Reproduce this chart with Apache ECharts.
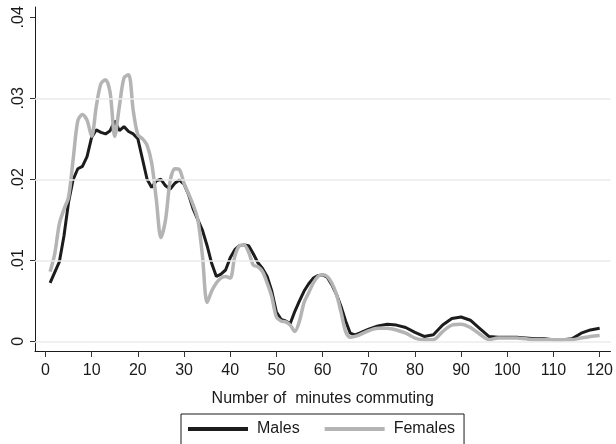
<!DOCTYPE html>
<html>
<head>
<meta charset="utf-8">
<script src="https://cdn.jsdelivr.net/npm/echarts@6/dist/echarts.min.js"></script>
<style>html,body{margin:0;padding:0;background:#fff}#c{width:616px;height:444px}</style>
</head>
<body>
<div id="c"></div>
<script>
const minutes = [1,2,3,4,5,6,7,8,9,10,11,12,13,14,15,16,17,18,19,20,21,22,23,24,25,26,27,28,29,30,31,32,33,34,35,36,37,38,39,40,41,42,43,44,45,46,47,48,49,50,51,52,53,54,55,56,57,58,59,60,61,62,63,64,65,66,67,68,70,72,74,76,78,80,82,84,86,88,90,92,94,96,98,100,102,104,106,108,110,112,114,116,118,120];
const males = [.0072,.0085,.0098,.0130,.0172,.0200,.0213,.0216,.0228,.0252,.0261,.0258,.0256,.0260,.0272,.0260,.0265,.0259,.0256,.0250,.0225,.0200,.0190,.0198,.0200,.0192,.0188,.0195,.0199,.0194,.0181,.0163,.0150,.0137,.0118,.0096,.0080,.0083,.0088,.0103,.0113,.0118,.0119,.0118,.0108,.0097,.0090,.0080,.0062,.0036,.0027,.0025,.0022,.0037,.0050,.0062,.0071,.0078,.0081,.0082,.0079,.0070,.0058,.0043,.0025,.0010,.0008,.0010,.0015,.0019,.0021,.0020,.0017,.0011,.0006,.0008,.0020,.0028,.0030,.0026,.0016,.0006,.0005,.0005,.0005,.0004,.0003,.0003,.0002,.0002,.0003,.0010,.0014,.0016];
const females = [.0086,.0108,.0145,.0163,.0178,.0225,.0272,.0280,.0273,.0253,.0290,.0318,.0323,.0307,.0253,.0290,.0325,.0329,.0285,.0255,.0250,.0242,.0220,.0175,.0128,.0150,.0198,.0213,.0212,.0195,.0182,.0168,.0150,.0105,.0048,.0062,.0072,.0078,.0080,.0078,.0105,.0118,.0119,.0110,.0094,.0092,.0086,.0072,.0055,.0030,.0025,.0024,.0020,.0012,.0025,.0048,.0060,.0072,.0080,.0082,.0080,.0072,.0058,.0036,.0012,.0005,.0006,.0008,.0013,.0016,.0016,.0014,.0010,.0004,.0002,.0002,.0012,.0020,.0021,.0017,.0009,.0002,.0004,.0004,.0004,.0003,.0002,.0002,.0002,.0002,.0002,.0004,.0006,.0007];
const xTicks = [0,10,20,30,40,50,60,70,80,90,100,110,120];
const yTicks = [0,0.01,0.02,0.03,0.04];
const yTickLabels = ['0','.01','.02','.03','.04'];
const gridVals = [0,0.01,0.02,0.03];
const seriesNames = ['Males','Females'];
const xTitle = 'Number of  minutes commuting';

const chart = echarts.init(document.getElementById('c'), null, {renderer:'canvas'});
const font = 'Liberation Sans, Arial, sans-serif';
chart.setOption({
  animation:false,
  backgroundColor:'#ffffff',
  grid:{left:35,right:4,top:7,bottom:93,containLabel:false},
  xAxis:{
    type:'value', min:-2.27, max:122.35,
    name:xTitle, nameLocation:'middle', nameGap:40,
    nameTextStyle:{fontFamily:font,fontSize:16,color:'#1a1a1a'},
    axisLine:{show:true,onZero:false,lineStyle:{color:'#1a1a1a',width:1}},
    axisTick:{show:true,length:6,customValues:xTicks,lineStyle:{color:'#333',width:1}},
    axisLabel:{customValues:xTicks,margin:12,fontFamily:font,fontSize:16,color:'#1a1a1a'},
    splitLine:{show:false}
  },
  yAxis:{
    type:'value', min:-0.0012, max:0.04127,
    axisLine:{show:true,onZero:false,lineStyle:{color:'#1a1a1a',width:1}},
    axisTick:{show:true,length:5,customValues:yTicks,lineStyle:{color:'#333',width:1}},
    axisLabel:{customValues:yTicks,rotate:90,margin:8,fontFamily:font,fontSize:16,color:'#1a1a1a',
      formatter:function(v){const i=yTicks.findIndex(t=>Math.abs(t-v)<1e-9);return i>=0?yTickLabels[i]:'';}},
    splitLine:{show:false}
  },
  legend:{
    data:seriesNames, left:181, top:414, orient:'horizontal',
    icon:'rect', itemWidth:60, itemHeight:4, itemGap:25,
    padding:[7,9,12,7],
    borderColor:'#1a1a1a', borderWidth:1,
    textStyle:{fontFamily:font,fontSize:16,color:'#1a1a1a',padding:[0,0,0,4]}
  },
  series:[
    {type:'line', name:'grid', data:[], silent:true, z:1,
     markLine:{silent:true,symbol:'none',label:{show:false},
       lineStyle:{color:'#ebebeb',width:1.5,type:'solid'},
       data:gridVals.map(v=>({yAxis:v}))}},
    {type:'line', name:seriesNames[0], z:3, showSymbol:false, symbol:'none',
     data:minutes.map((m,i)=>[m,males[i]]),
     lineStyle:{color:'#1c1c1c',width:3}, itemStyle:{color:'#1c1c1c'}},
    {type:'line', name:seriesNames[1], z:4, showSymbol:false, symbol:'none', smooth:0.3,
     data:minutes.map((m,i)=>[m,females[i]]),
     lineStyle:{color:'#b4b4b4',width:3.5}, itemStyle:{color:'#b4b4b4'}}
  ]
});
</script>
</body>
</html>
